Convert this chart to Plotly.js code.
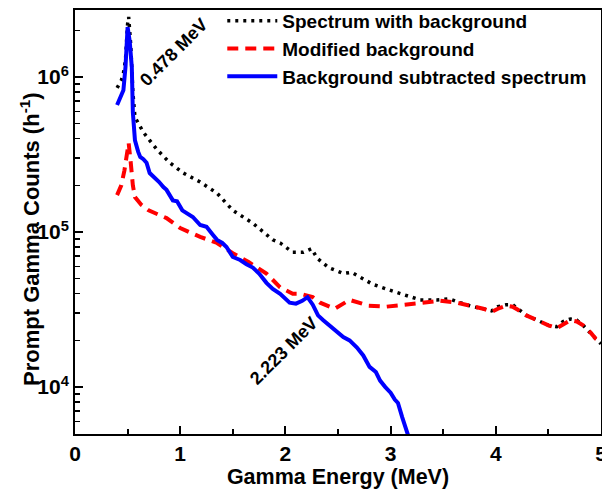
<!DOCTYPE html>
<html>
<head>
<meta charset="utf-8">
<script src="https://cdn.plot.ly/plotly-3.0.1.min.js"></script>
<style>html,body{margin:0;padding:0;background:#fff;}#chart{width:602px;height:489px;}</style>
</head>
<body>
<div id="chart"></div>
<script>
// Spectrum with background (black dotted)
const withBgEnergy = [0.40,0.42,0.44,0.46,0.48,0.50,0.51,0.53,0.55,0.57,0.65,0.71,0.78,0.90,1.03,1.19,1.35,1.50,1.69,1.88,1.95,2.07,2.17,2.25,2.30,2.41,2.55,2.63,2.71,2.83,3.00,3.14,3.28,3.44,3.56,3.66,3.78,3.88,3.96,4.02,4.10,4.16,4.21,4.29,4.42,4.50,4.58,4.64,4.71,4.77,4.83,4.90,4.95,5.00];
const withBgCounts = [8.5e5,9.0e5,9.5e5,1.05e6,1.3e6,2.2e6,2.44e6,1.6e6,8.0e5,5.5e5,4.4e5,3.9e5,3.4e5,2.8e5,2.4e5,2.1e5,1.78e5,1.38e5,1.14e5,8.9e4,8.5e4,7.4e4,7.4e4,7.8e4,6.8e4,5.9e4,5.4e4,5.5e4,5.1e4,4.6e4,4.2e4,3.9e4,3.65e4,3.65e4,3.7e4,3.5e4,3.3e4,3.2e4,3.1e4,3.3e4,3.4e4,3.4e4,3.2e4,2.9e4,2.65e4,2.5e4,2.45e4,2.65e4,2.75e4,2.7e4,2.5e4,2.25e4,2.05e4,1.9e4];

// Modified background (red dashed)
const bgEnergy = [0.40,0.44,0.47,0.49,0.51,0.53,0.55,0.57,0.63,0.70,0.87,1.00,1.19,1.35,1.50,1.65,1.82,1.95,2.07,2.14,2.26,2.33,2.47,2.61,2.79,2.96,3.12,3.30,3.47,3.63,3.78,3.88,3.96,4.02,4.10,4.16,4.21,4.29,4.42,4.50,4.58,4.64,4.71,4.77,4.83,4.90,4.95,5.00];
const bgCounts = [1.73e5,2.0e5,2.5e5,3.0e5,3.75e5,2.8e5,2.0e5,1.68e5,1.5e5,1.38e5,1.23e5,1.06e5,9.3e4,8.5e4,7.3e4,6.4e4,5.4e4,4.4e4,4.0e4,4.0e4,3.8e4,3.5e4,3.2e4,3.65e4,3.35e4,3.3e4,3.4e4,3.5e4,3.6e4,3.5e4,3.3e4,3.2e4,3.05e4,3.2e4,3.35e4,3.3e4,3.15e4,2.9e4,2.65e4,2.5e4,2.4e4,2.55e4,2.7e4,2.65e4,2.5e4,2.25e4,2.05e4,1.95e4];

// Background subtracted spectrum (blue solid)
const subEnergy = [0.40,0.44,0.46,0.48,0.50,0.52,0.54,0.55,0.57,0.60,0.62,0.65,0.68,0.71,0.76,0.80,0.84,0.87,0.93,0.97,1.02,1.06,1.12,1.19,1.25,1.31,1.35,1.40,1.44,1.50,1.57,1.63,1.69,1.75,1.82,1.88,1.95,2.04,2.10,2.16,2.21,2.26,2.31,2.36,2.42,2.49,2.55,2.61,2.68,2.74,2.80,2.86,2.90,2.95,3.00,3.04,3.07,3.11,3.14,3.17];
const subCounts = [6.6e5,7.6e5,8.2e5,1.16e6,2.1e6,1.7e6,1.16e6,5.9e5,3.9e5,3.3e5,3.05e5,2.95e5,2.8e5,2.4e5,2.25e5,2.1e5,1.95e5,1.87e5,1.6e5,1.58e5,1.38e5,1.33e5,1.25e5,1.11e5,1.08e5,9.6e4,8.9e4,8.5e4,8.0e4,6.9e4,6.6e4,6.2e4,5.9e4,5.4e4,4.7e4,4.3e4,4.0e4,3.5e4,3.45e4,3.6e4,3.8e4,3.4e4,2.9e4,2.7e4,2.5e4,2.3e4,2.1e4,2.0e4,1.8e4,1.6e4,1.35e4,1.25e4,1.1e4,1.0e4,9.2e3,8.3e3,7.9e3,6.4e3,5.6e3,4.8e3];

const seriesNames = ["Spectrum with background","Modified background","Background subtracted spectrum"];
const yTickVals = [1e4,1e5,1e6];
const yTickText = ["10<sup>4</sup>","10<sup>5</sup>","10<sup>6</sup>"];
const xTickVals = [0,1,2,3,4,5];
const peakLabels = ["0.478 MeV","2.223 MeV"];
const peakLabelE = [0.94,1.98];
const peakLabelC = [1.45e6,1.72e4];
const xTitle = "Gamma Energy (MeV)";
const yTitle = "Prompt Gamma Counts (h<sup>-1</sup>)";

const yMinor = [];
for (let d = 3; d <= 6; d++) for (let m = 2; m <= 9; m++) yMinor.push(m*Math.pow(10,d));

const FONT = "Liberation Sans, Arial, sans-serif";

const traces = [
  {x: withBgEnergy, y: withBgCounts, name: seriesNames[0], mode: "lines",
   line: {color: "#000000", width: 3.5, dash: "3px,5px"}},
  {x: bgEnergy, y: bgCounts, name: seriesNames[1], mode: "lines",
   line: {color: "#ff0000", width: 4, dash: "11px,7px"}},
  {x: subEnergy, y: subCounts, name: seriesNames[2], mode: "lines",
   line: {color: "#0000ff", width: 4}}
];

const annotations = peakLabels.map((t, i) => ({
  text: t, x: peakLabelE[i], y: Math.log10(peakLabelC[i]), xref: "x", yref: "y",
  showarrow: false, textangle: -45,
  font: {family: FONT, size: 18, weight: "bold", color: "#000"}
}));
annotations.push({
  text: yTitle, xref: "paper", yref: "paper", x: -0.0856, y: 0.46,
  xanchor: "center", yanchor: "middle", showarrow: false, textangle: -90,
  font: {family: FONT, size: 22, weight: "bold", color: "#000"}
});

const layout = {
  width: 602, height: 489,
  margin: {l: 75, r: 1, t: 10, b: 55, autoexpand: false},
  paper_bgcolor: "#ffffff", plot_bgcolor: "#ffffff",
  font: {family: FONT, color: "#000"},
  showlegend: true,
  legend: {x: 0.28, y: 1.019, xanchor: "left", yanchor: "top",
    bgcolor: "rgba(0,0,0,0)", borderwidth: 0, itemwidth: 50,
    font: {family: FONT, size: 19, weight: "bold", color: "#000"},
    tracegroupgap: 0},
  xaxis: {range: [0,5], tickmode: "array", tickvals: xTickVals,
    automargin: false, ticklabeloverflow: "allow",
    ticks: "inside", ticklen: 8, tickwidth: 2, tickcolor: "#000",
    minor: {tickmode: "array", tickvals: [0.5,1.5,2.5,3.5,4.5], ticks: "inside", ticklen: 5, tickwidth: 2, tickcolor: "#000"},
    showline: true, linewidth: 2, linecolor: "#000", mirror: true,
    showgrid: false, zeroline: false,
    tickfont: {family: FONT, size: 21, weight: "bold"},
    title: {text: xTitle, font: {family: FONT, size: 21.5, weight: "bold"}, standoff: 6}},
  yaxis: {type: "log", range: [Math.log10(4980), 6.432], tickmode: "array",
    automargin: false,
    tickvals: yTickVals, ticktext: yTickText,
    ticks: "inside", ticklen: 8, tickwidth: 2, tickcolor: "#000",
    minor: {tickmode: "array", tickvals: yMinor, ticks: "inside", ticklen: 5, tickwidth: 1.5, tickcolor: "#000"},
    showline: true, linewidth: 2, linecolor: "#000", mirror: true,
    showgrid: false, zeroline: false,
    tickfont: {family: FONT, size: 21, weight: "bold"}},
  annotations: annotations
};

Plotly.newPlot("chart", traces, layout, {displayModeBar: false, staticPlot: true});
</script>
</body>
</html>
